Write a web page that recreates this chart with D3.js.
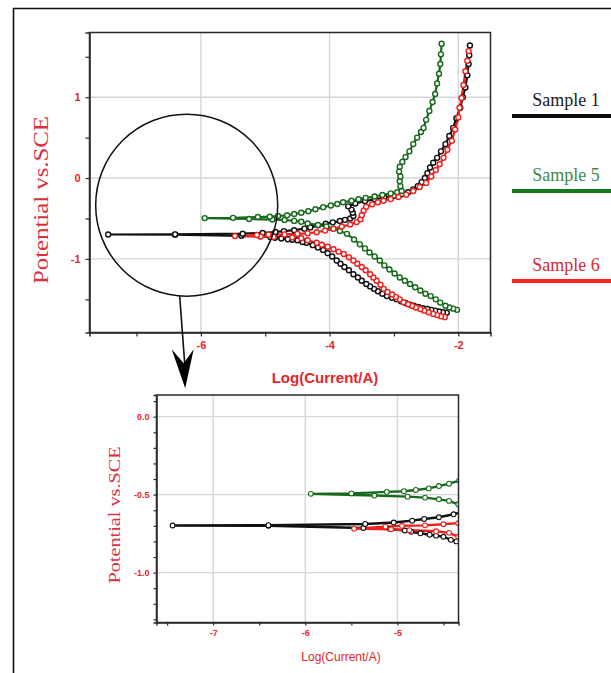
<!DOCTYPE html>
<html><head><meta charset="utf-8">
<script src="https://cdn.jsdelivr.net/npm/d3@7"></script>
<style>body{margin:0;background:#fff;overflow:hidden}</style>
</head><body><svg id="c" width="611" height="673"></svg>
<script>
// ---------- data (log I, E) in scan order: cathodic end -> Ecorr -> anodic end ----------
const sampleNames = ["Sample 1", "Sample 5", "Sample 6"];
const sample1 = [
 [-2.18,-1.665],[-2.24,-1.66],[-2.30,-1.65],[-2.36,-1.64],[-2.42,-1.63],[-2.48,-1.62],[-2.55,-1.61],[-2.62,-1.595],
 [-2.69,-1.58],[-2.75,-1.565],[-2.82,-1.545],[-2.89,-1.525],[-2.96,-1.50],[-3.03,-1.48],[-3.11,-1.46],[-3.18,-1.43],
 [-3.25,-1.40],[-3.31,-1.37],[-3.37,-1.34],[-3.43,-1.31],[-3.50,-1.27],[-3.56,-1.23],[-3.63,-1.19],[-3.70,-1.14],
 [-3.77,-1.10],[-3.83,-1.06],[-3.89,-1.02],[-3.96,-0.97],[-4.03,-0.93],[-4.10,-0.89],[-4.18,-0.86],[-4.26,-0.83],
 [-4.36,-0.80],[-4.42,-0.79],[-4.50,-0.77],[-4.58,-0.763],[-4.65,-0.757],[-4.75,-0.748],[-4.85,-0.738],[-4.92,-0.73],
 [-5.08,-0.72],[-5.37,-0.714],[-6.40,-0.70],[-7.44,-0.698],
 [-6.40,-0.696],[-5.35,-0.688],[-5.04,-0.679],[-4.84,-0.667],[-4.71,-0.656],[-4.55,-0.645],[-4.39,-0.626],[-4.30,-0.61],
 [-4.18,-0.585],[-4.06,-0.565],[-3.95,-0.548],[-3.84,-0.532],[-3.76,-0.517],[-3.68,-0.50],[-3.63,-0.47],[-3.64,-0.43],
 [-3.66,-0.39],[-3.71,-0.35],[-3.60,-0.315],[-3.45,-0.285],[-3.30,-0.262],[-3.15,-0.24],[-3.00,-0.22],[-2.88,-0.20],
 [-2.78,-0.175],[-2.70,-0.14],[-2.63,-0.10],[-2.57,-0.05],[-2.52,0.0],[-2.48,0.06],[-2.44,0.13],[-2.39,0.19],
 [-2.33,0.25],[-2.27,0.33],[-2.20,0.42],[-2.14,0.52],[-2.08,0.62],[-2.03,0.74],[-1.97,0.87],[-1.93,1.00],
 [-1.89,1.12],[-1.86,1.27],[-1.84,1.41],[-1.83,1.52],[-1.82,1.64]
];
const sample5 = [
 [-2.02,-1.63],[-2.08,-1.615],[-2.14,-1.60],[-2.20,-1.58],[-2.28,-1.54],[-2.35,-1.50],[-2.43,-1.46],[-2.51,-1.43],
 [-2.59,-1.39],[-2.67,-1.35],[-2.75,-1.31],[-2.83,-1.27],[-2.91,-1.23],[-2.99,-1.18],[-3.07,-1.13],[-3.15,-1.08],
 [-3.22,-1.02],[-3.30,-0.97],[-3.38,-0.92],[-3.45,-0.87],[-3.53,-0.82],[-3.62,-0.76],[-3.73,-0.69],[-3.84,-0.655],
 [-3.94,-0.625],[-4.05,-0.60],[-4.18,-0.58],[-4.34,-0.562],[-4.44,-0.54],[-4.55,-0.53],[-4.70,-0.519],[-4.89,-0.513],
 [-5.25,-0.506],[-5.94,-0.495],
 [-5.50,-0.492],[-5.115,-0.482],[-4.93,-0.478],[-4.80,-0.47],[-4.66,-0.46],[-4.55,-0.445],[-4.44,-0.43],[-4.33,-0.41],
 [-4.22,-0.385],[-4.10,-0.36],[-3.98,-0.34],[-3.88,-0.32],[-3.79,-0.30],[-3.66,-0.28],[-3.55,-0.262],[-3.44,-0.245],
 [-3.30,-0.228],[-3.18,-0.21],[-3.05,-0.19],[-2.95,-0.175],[-2.88,-0.16],[-2.90,-0.10],[-2.91,-0.04],[-2.90,0.02],
 [-2.92,0.08],[-2.91,0.14],[-2.87,0.20],[-2.82,0.26],[-2.76,0.33],[-2.70,0.42],[-2.64,0.50],[-2.58,0.57],
 [-2.54,0.62],[-2.50,0.72],[-2.45,0.83],[-2.40,0.94],[-2.36,1.04],[-2.33,1.17],[-2.30,1.29],[-2.28,1.41],
 [-2.27,1.53],[-2.26,1.66]
];
const sample6 = [
 [-2.21,-1.72],[-2.27,-1.71],[-2.33,-1.695],[-2.39,-1.68],[-2.46,-1.66],[-2.53,-1.64],[-2.59,-1.62],[-2.66,-1.60],
 [-2.72,-1.58],[-2.78,-1.56],[-2.85,-1.535],[-2.91,-1.50],[-2.97,-1.47],[-3.03,-1.44],[-3.10,-1.41],[-3.16,-1.37],
 [-3.21,-1.32],[-3.27,-1.27],[-3.32,-1.23],[-3.37,-1.19],[-3.44,-1.14],[-3.50,-1.10],[-3.57,-1.06],[-3.63,-1.02],
 [-3.70,-0.98],[-3.78,-0.94],[-3.86,-0.91],[-3.94,-0.88],[-4.03,-0.85],[-4.12,-0.825],[-4.20,-0.80],[-4.34,-0.77],
 [-4.44,-0.745],[-4.58,-0.735],[-4.87,-0.728],[-5.07,-0.722],[-5.47,-0.718],
 [-5.13,-0.705],[-4.95,-0.70],[-4.70,-0.697],[-4.50,-0.69],[-4.34,-0.683],[-4.20,-0.67],[-4.07,-0.65],[-3.94,-0.628],
 [-3.81,-0.60],[-3.68,-0.575],[-3.58,-0.545],[-3.52,-0.51],[-3.50,-0.46],[-3.47,-0.40],[-3.43,-0.355],[-3.34,-0.325],
 [-3.25,-0.30],[-3.16,-0.28],[-3.05,-0.26],[-2.93,-0.235],[-2.81,-0.205],[-2.70,-0.16],[-2.60,-0.11],[-2.50,-0.06],
 [-2.42,0.02],[-2.35,0.10],[-2.29,0.17],[-2.23,0.25],[-2.17,0.35],[-2.10,0.46],[-2.05,0.60],[-2.00,0.75],
 [-1.98,0.87],[-1.95,0.99],[-1.92,1.15],[-1.89,1.32],[-1.86,1.45],[-1.84,1.57]
];
const seriesColors = ["#111111", "#176a1b", "#f0201e"];
const legendLineColors = ["#0c0c0c", "#137a19", "#ff2424"];
const legendTextColors = ["#1a1a1a", "#3f8a43", "#d62b30"];

const mainXTicks = [-7, -6, -5, -4, -3, -2];
const mainXLabels = [-6, -4, -2];
const mainYTicks = [1.5, 1, 0.5, 0, -0.5, -1, -1.5];
const mainYLabels = [1, 0, -1];
const insetXTicks = [-7.5, -7, -6.5, -6, -5.5, -5, -4.5];
const insetXLabels = [-7, -6, -5];
const insetYTicks = [0.1, 0, -0.1, -0.2, -0.3, -0.4, -0.5, -0.6, -0.7, -0.8, -0.9, -1.0, -1.1, -1.2, -1.3];
const insetYLabels = [0, -0.5, -1.0];

const RED = "#e5262c";
const series = [sample1, sample5, sample6];
const svg = d3.select("#c");

// outer frame
svg.append("path").attr("d", "M13.5,673 L13.5,8.5 L611,8.5").attr("fill", "none")
  .attr("stroke", "#111").attr("stroke-width", 1.6);

function panel(opt) {
  const x = d3.scaleLinear().domain(opt.xd).range([opt.l, opt.r]);
  const y = d3.scaleLinear().domain(opt.yd).range([opt.t, opt.b]);
  const g = svg.append("g");
  const cid = "clip" + opt.id;
  svg.append("clipPath").attr("id", cid).append("rect")
    .attr("x", opt.l).attr("y", opt.t).attr("width", opt.r - opt.l).attr("height", opt.b - opt.t);
  // grid
  g.selectAll(".gx").data(opt.xLabels).join("line")
    .attr("x1", d => x(d)).attr("x2", d => x(d)).attr("y1", opt.t).attr("y2", opt.b)
    .attr("stroke", "#d6d6d6").attr("stroke-width", 1.4);
  g.selectAll(".gy").data(opt.yLabels).join("line")
    .attr("y1", d => y(d)).attr("y2", d => y(d)).attr("x1", opt.l).attr("x2", opt.r)
    .attr("stroke", "#d6d6d6").attr("stroke-width", 1.4);
  // data
  const dg = g.append("g").attr("clip-path", `url(#${cid})`);
  const line = d3.line().x(d => x(d[0])).y(d => y(d[1]));
  series.forEach((s, i) => {
    dg.append("path").datum(s).attr("d", line).attr("fill", "none")
      .attr("stroke", seriesColors[i]).attr("stroke-width", opt.lw).attr("stroke-linejoin", "round");
  });
  series.forEach((s, i) => {
    dg.append("g").selectAll("circle").data(s).join("circle")
      .attr("cx", d => x(d[0])).attr("cy", d => y(d[1])).attr("r", opt.mr)
      .attr("fill", "#fff").attr("stroke", seriesColors[i]).attr("stroke-width", opt.msw);
  });
  // frame
  g.append("rect").attr("x", opt.l).attr("y", opt.t).attr("width", opt.r - opt.l).attr("height", opt.b - opt.t)
    .attr("fill", "none").attr("stroke", "#2a2a2a").attr("stroke-width", 1.5);
  // axes
  const ax = g.append("g").attr("transform", `translate(0,${opt.b})`)
    .call(d3.axisBottom(x).tickValues(opt.xTicks).tickSize(opt.ts).tickPadding(opt.tp)
      .tickFormat(d => opt.xLabels.includes(d) ? opt.xf(d) : ""));
  const ay = g.append("g").attr("transform", `translate(${opt.l},0)`)
    .call(d3.axisLeft(y).tickValues(opt.yTicks).tickSize(opt.ts).tickPadding(opt.tp)
      .tickFormat(d => opt.yLabels.some(v => Math.abs(v - d) < 1e-9) ? opt.yf(d) : ""));
  [ax, ay].forEach(a => {
    a.select(".domain").attr("stroke", "#2a2a2a").attr("stroke-width", 1.5);
    a.selectAll(".tick line").attr("stroke", "#2a2a2a").attr("stroke-width", 1.2);
    a.selectAll(".tick text").attr("fill", RED).attr("font-family", "Liberation Sans, Arial, sans-serif")
      .attr("font-size", opt.fs).attr("font-weight", "bold");
  });
  return { x, y, g };
}

const main = panel({
  id: "m", l: 89.5, r: 490.5, t: 32.5, b: 332.5, xd: [-7.73, -1.5], yd: [1.80, -1.91],
  xTicks: mainXTicks, xLabels: mainXLabels, yTicks: mainYTicks, yLabels: mainYLabels,
  xf: d => String(d), yf: d => String(d), ts: 4, tp: 5, fs: 11, lw: 2.2, mr: 2.5, msw: 1.4
});
const inset = panel({
  id: "i", l: 156.5, r: 458.5, t: 395, b: 622.5, xd: [-7.615, -4.337], yd: [0.139, -1.32],
  xTicks: insetXTicks, xLabels: insetXLabels, yTicks: insetYTicks, yLabels: insetYLabels,
  xf: d => String(d), yf: d => d3.format(".1f")(d).replace("−", "-"), ts: 3, tp: 4, fs: 9, lw: 2.4, mr: 2.4, msw: 1.1
});

// titles
svg.append("text").attr("x", 325).attr("y", 383).attr("text-anchor", "middle")
  .attr("font-family", "Liberation Sans, Arial, sans-serif").attr("font-size", 15).attr("font-weight", "bold")
  .attr("fill", RED).text("Log(Current/A)");
svg.append("text").attr("transform", "translate(48,200) rotate(-90)").attr("text-anchor", "middle")
  .attr("font-family", "Liberation Serif, serif").attr("font-size", 22).attr("fill", "#d8303c")
  .attr("textLength", 168).attr("lengthAdjust", "spacingAndGlyphs").text("Potential vs.SCE");
svg.append("text").attr("x", 341).attr("y", 661).attr("text-anchor", "middle")
  .attr("font-family", "Liberation Sans, Arial, sans-serif").attr("font-size", 12)
  .attr("fill", RED).text("Log(Current/A)");
svg.append("text").attr("transform", "translate(120,515) rotate(-90)").attr("text-anchor", "middle")
  .attr("font-family", "Liberation Serif, serif").attr("font-size", 17).attr("fill", "#d8303c")
  .attr("textLength", 137).attr("lengthAdjust", "spacingAndGlyphs").text("Potential vs.SCE");

// zoom circle and arrow
const cx = main.x(-6.22), cy = main.y(-0.335);
svg.append("circle").attr("cx", cx).attr("cy", cy).attr("r", 91)
  .attr("fill", "none").attr("stroke", "#111").attr("stroke-width", 1.5);
svg.append("line").attr("x1", cx - 7).attr("y1", cy + 91).attr("x2", cx - 1.5).attr("y2", cy + 165)
  .attr("stroke", "#111").attr("stroke-width", 1.6);
svg.append("path")
  .attr("d", `M${cx - 15},${cy + 144} L${cx - 1.5},${cy + 183} L${cx + 7},${cy + 144} L${cx - 3},${cy + 158} Z`)
  .attr("fill", "#000");

// legend
const legY = [116, 191, 281];
sampleNames.forEach((n, i) => {
  svg.append("line").attr("x1", 512).attr("x2", 611).attr("y1", legY[i]).attr("y2", legY[i])
    .attr("stroke", legendLineColors[i]).attr("stroke-width", 4);
  svg.append("text").attr("x", 566).attr("y", legY[i] - 10).attr("text-anchor", "middle")
    .attr("font-family", "Liberation Serif, serif").attr("font-size", 18)
    .attr("fill", legendTextColors[i]).text(n);
});
</script></body></html>
